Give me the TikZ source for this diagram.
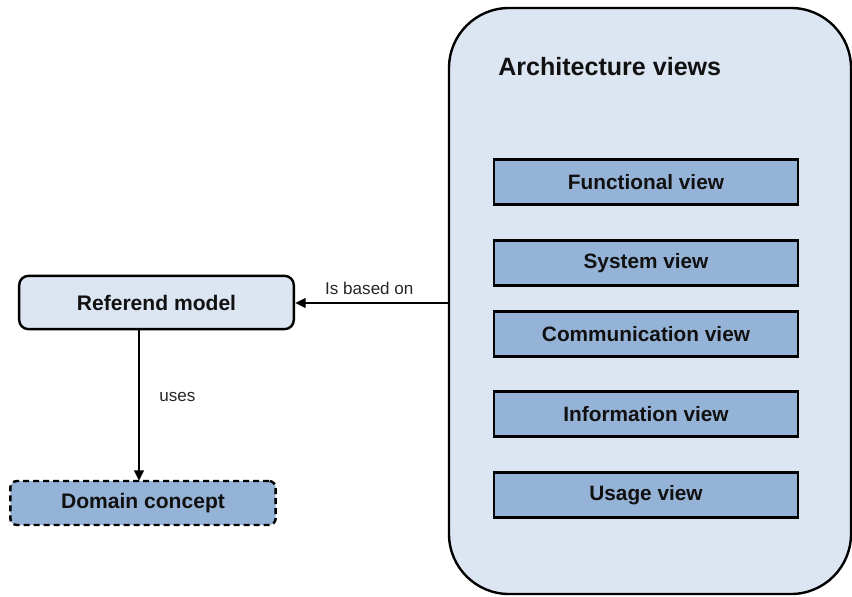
\documentclass[tikz,border=0pt]{standalone}
\usepackage{fontspec}
\setmainfont{Liberation Sans}
\usetikzlibrary{arrows.meta}
\definecolor{lightfill}{HTML}{DCE6F2}
\definecolor{darkfill}{HTML}{95B3D7}
\definecolor{ink}{HTML}{111111}
\begin{document}
\begin{tikzpicture}[x=0.75pt,y=-0.75pt,
  container/.style={draw=black,line width=1.8pt,fill=lightfill,rounded corners=45pt},
  refbox/.style={draw=black,line width=1.8pt,fill=lightfill,rounded corners=7pt,minimum width=206pt,minimum height=40pt,font=\fontsize{15.8}{18}\selectfont\bfseries,text=ink},
  dombox/.style={draw=black,line width=1.8pt,dashed,dash pattern=on 4.5pt off 3pt,fill=darkfill,rounded corners=5pt,minimum width=199pt,minimum height=33pt,font=\fontsize{15.8}{18}\selectfont\bfseries,text=ink},
  viewbox/.style={draw=black,line width=1.8pt,fill=darkfill,minimum width=228pt,minimum height=34pt,font=\fontsize{15.6}{18}\selectfont\bfseries,text=ink},
  conn/.style={-{Triangle[length=8pt,width=7pt]},line width=2pt},
  lbl/.style={font=\fontsize{12.8}{15}\selectfont,text=black!85}]
\useasboundingbox (0,0) rectangle (852,596);
\draw[container] (449,8) rectangle (851,594);
\node[anchor=west,inner sep=0pt,font=\fontsize{18.8}{22}\selectfont\bfseries,text=ink] (title) at (498,67) {Architecture views};
\node[viewbox] (func) at (646,182) {Functional view};
\node[viewbox] (sys) at (646,263) {System view};
\node[viewbox] (comm) at (646,334) {Communication view};
\node[viewbox] (info) at (646,414) {Information view};
\node[viewbox] (usage) at (646,495) {Usage view};
\coordinate (cleft) at (449,303);
\node[refbox] (ref) at (156.5,302.5) {Referend model};
\node[dombox] (dom) at (143,503) {Domain concept};
\draw[conn] (cleft) -- (ref.east |- cleft) node[lbl,midway,above=2pt,xshift=-2pt] {Is based on};
\draw[conn] (ref.south -| 139,0) -- (139,481) node[lbl,pos=0.45,right=11pt,yshift=1pt] {uses};
\end{tikzpicture}
\end{document}
